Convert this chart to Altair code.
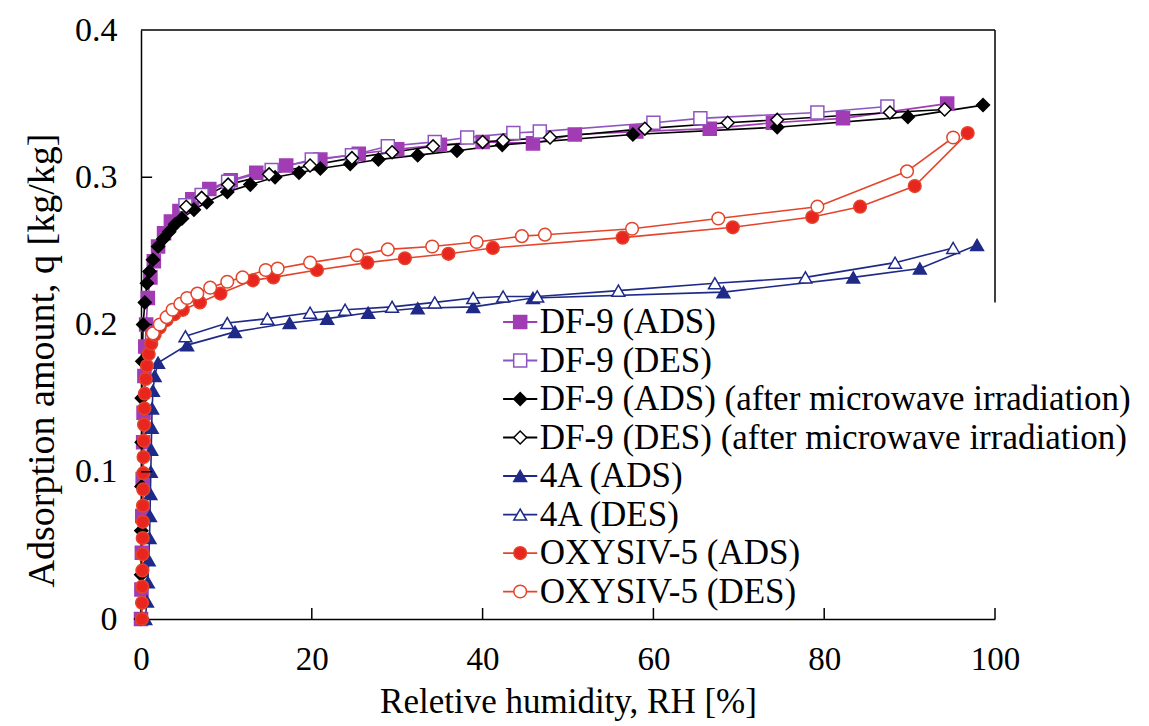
import altair as alt
import pandas as pd

FONT = "Liberation Serif"

# ---------------- data ----------------
series_names = [
    "DF-9 (ADS)",
    "DF-9 (DES)",
    "DF-9 (ADS) (after microwave irradiation)",
    "DF-9 (DES) (after microwave irradiation)",
    "4A (ADS)",
    "4A (DES)",
    "OXYSIV-5 (ADS)",
    "OXYSIV-5 (DES)",
]

df9_ads_rh = [0, 0.05, 0.1, 0.15, 0.2, 0.25, 0.3, 0.4, 0.5, 0.6, 0.8, 1.1, 1.5, 2.0, 2.7, 3.5, 4.5,
              6.0, 8.0, 10.5, 13.5, 17.0, 21.0, 25.5, 30.0, 35.0, 40.0, 45.9, 50.8, 58.0, 66.6,
              74.0, 82.2, 94.4]
df9_ads_q = [0, 0.02, 0.045, 0.07, 0.095, 0.12, 0.14, 0.165, 0.185, 0.2, 0.218, 0.232, 0.243,
             0.253, 0.262, 0.27, 0.277, 0.285, 0.292, 0.298, 0.303, 0.308, 0.312, 0.316, 0.319,
             0.322, 0.324, 0.323, 0.329, 0.331, 0.333, 0.337, 0.340, 0.350]

df9_des_rh = [5.2, 7.1, 10.2, 15.3, 20.0, 24.7, 28.9, 34.4, 38.2, 43.6, 46.7, 60.0, 65.5, 79.2, 87.4]
df9_des_q = [0.281, 0.288, 0.297, 0.305, 0.312, 0.315, 0.321, 0.324, 0.327, 0.330, 0.331, 0.337,
             0.340, 0.344, 0.348]

df9mw_ads_rh = [0, 0.02, 0.04, 0.06, 0.08, 0.1, 0.15, 0.25, 0.45, 0.7, 1.0, 1.4, 2.0, 2.6, 3.3,
                4.0, 4.8, 6.2, 7.7, 10.1, 12.8, 15.7, 18.5, 21.0, 24.5, 27.8, 32.4, 37.0, 42.3,
                57.6, 74.5, 89.8, 98.6]
df9mw_ads_q = [0, 0.03, 0.06, 0.09, 0.12, 0.15, 0.175, 0.2, 0.215, 0.228, 0.236, 0.244, 0.253,
               0.258, 0.263, 0.268, 0.272, 0.278, 0.283, 0.290, 0.295, 0.300, 0.303, 0.306, 0.309,
               0.312, 0.315, 0.318, 0.322, 0.329, 0.334, 0.341, 0.349]

df9mw_des_rh = [5.3, 7.1, 10.2, 15.0, 19.8, 24.7, 29.4, 34.2, 40.0, 42.4, 47.9, 59.0, 68.7, 74.5,
                87.7, 94.1]
df9mw_des_q = [0.280, 0.286, 0.295, 0.302, 0.308, 0.313, 0.317, 0.321, 0.324, 0.325, 0.327, 0.333,
               0.337, 0.339, 0.344, 0.346]

a4_ads_rh = [0.5, 0.7, 0.8, 0.9, 1.0, 1.05, 1.1, 1.15, 1.2, 1.25, 1.3, 1.4, 1.6, 2.0, 5.4, 11.0,
             17.4, 21.8, 26.6, 32.4, 38.9, 45.9, 68.2, 83.4, 91.2, 97.9]
a4_ads_q = [0, 0.012, 0.025, 0.04, 0.055, 0.07, 0.085, 0.1, 0.115, 0.13, 0.143, 0.155, 0.165,
            0.174, 0.186, 0.195, 0.201, 0.204, 0.208, 0.211, 0.212, 0.218, 0.222, 0.232, 0.238,
            0.254]

a4_des_rh = [5.2, 10.1, 14.8, 19.8, 23.9, 29.4, 34.4, 38.9, 42.4, 46.4, 55.9, 67.2, 77.8, 88.3, 95.1]
a4_des_q = [0.192, 0.201, 0.204, 0.208, 0.210, 0.212, 0.215, 0.218, 0.219, 0.219, 0.223, 0.228,
            0.232, 0.242, 0.252]

oxy_ads_rh = [0.1, 0.12, 0.14, 0.16, 0.18, 0.2, 0.22, 0.24, 0.26, 0.28, 0.3, 0.33, 0.36, 0.4, 0.45,
              0.55, 0.7, 0.9, 1.2, 1.6, 2.2, 3.0, 3.9, 4.9, 6.9, 9.3, 13.1, 15.5, 20.6, 26.5, 30.9,
              36.0, 41.2, 56.4, 69.3, 78.6, 84.2, 90.6, 96.8]
oxy_ads_q = [0, 0.011, 0.022, 0.033, 0.044, 0.055, 0.066, 0.077, 0.088, 0.099, 0.11, 0.121, 0.132,
             0.143, 0.153, 0.163, 0.172, 0.18, 0.187, 0.193, 0.198, 0.203, 0.207, 0.210, 0.215,
             0.221, 0.230, 0.232, 0.237, 0.242, 0.245, 0.248, 0.252, 0.259, 0.266, 0.273, 0.280,
             0.294, 0.330]

oxy_des_rh = [1.4, 2.2, 3.0, 3.7, 4.6, 5.4, 6.6, 8.1, 10.1, 11.9, 14.6, 16.0, 19.8, 25.3, 28.9,
              34.1, 39.3, 44.6, 47.3, 57.5, 67.6, 79.2, 89.7, 95.1]
oxy_des_q = [0.194, 0.200, 0.205, 0.210, 0.214, 0.218, 0.221, 0.225, 0.229, 0.232, 0.237, 0.238,
             0.242, 0.247, 0.251, 0.253, 0.256, 0.260, 0.261, 0.265, 0.272, 0.280, 0.304, 0.327]

x_ticks = [0, 20, 40, 60, 80, 100]
y_ticks = [0, 0.1, 0.2, 0.3, 0.4]

# ---------------- styles ----------------
marker_stroke = ["#A23CB4", "#8E55C0", "#000000", "#000000", "#1F2A88", "#1F2A88", "#E8251E", "#E2452E"]
marker_fill = ["#A23CB4", "#FFFFFF", "#000000", "#FFFFFF", "#1F2A88", "#FFFFFF", "#E8251E", "#FFFFFF"]
line_colors = ["#A23CB4", "#8E55C0", "#000000", "#000000", "#1F2A88", "#1F2A88", "#E3442B", "#E3442B"]
shapes = ["square", "square", "diamond", "diamond", "triangle-up", "triangle-up", "circle", "circle"]
sizes = [170, 160, 110, 150, 120, 140, 170, 170]

# legend layout (in data units of the chart)
leg_top = 0.2017
leg_step = 0.02615
leg_x0, leg_x1, leg_xm, leg_xt = 42.4, 46.4, 44.4, 46.7

# ---------------- tables ----------------
pairs = [(df9_ads_rh, df9_ads_q), (df9_des_rh, df9_des_q), (df9mw_ads_rh, df9mw_ads_q),
         (df9mw_des_rh, df9mw_des_q), (a4_ads_rh, a4_ads_q), (a4_des_rh, a4_des_q),
         (oxy_ads_rh, oxy_ads_q), (oxy_des_rh, oxy_des_q)]
rows = []
for name, (xs, ys) in zip(series_names, pairs):
    for i, (xv, yv) in enumerate(zip(xs, ys)):
        rows.append({"series": name, "rh": xv, "q": yv, "idx": i})
df = pd.DataFrame(rows)

leg = pd.DataFrame({
    "series": series_names,
    "q": [leg_top - i * leg_step for i in range(len(series_names))],
    "x0": leg_x0, "x1": leg_x1, "xm": leg_xm, "xt": leg_xt,
})

xs_scale = alt.Scale(domain=[0, 100], nice=False, zero=False)
ys_scale = alt.Scale(domain=[0, 0.4], nice=False, zero=False)
line_scale = alt.Scale(domain=series_names, range=line_colors)
stroke_scale = alt.Scale(domain=series_names, range=marker_stroke)
fill_scale = alt.Scale(domain=series_names, range=marker_fill)
shape_scale = alt.Scale(domain=series_names, range=shapes)
size_scale = alt.Scale(domain=series_names, range=sizes)

x_axis = alt.Axis(values=x_ticks, format="d", title="Reletive humidity, RH [%]", grid=False,
                  ticks=False, domainColor="black", domainWidth=1.5, labelFont=FONT,
                  labelFontSize=33, labelColor="black", labelPadding=24, labelFlush=False,
                  titleFont=FONT, titleFontSize=35, titleFontWeight="normal", titleColor="black",
                  titleY=93, titleBaseline="alphabetic")
y_axis = alt.Axis(values=y_ticks, title="Adsorption amount, q [kg/kg]", grid=False, ticks=False,
                  labelExpr="datum.value == 0 ? '0' : format(datum.value, '.1f')",
                  domainColor="black", domainWidth=1.5, labelFont=FONT, labelFontSize=34,
                  labelColor="black", labelPadding=24, labelFlush=False, titleFont=FONT,
                  titleFontSize=38, titleFontWeight="normal", titleColor="black", titleX=-99,
                  titleY=330, titleAlign="center", titleBaseline="middle", titleAngle=270)


def X(field):
    return alt.X(field, scale=xs_scale, axis=x_axis)


def Y(field):
    return alt.Y(field, scale=ys_scale, axis=y_axis)


lines = alt.Chart(df).mark_line(strokeWidth=1.6).encode(
    x=X("rh:Q"), y=Y("q:Q"),
    stroke=alt.Stroke("series:N", scale=line_scale, legend=None),
    order=alt.Order("idx:Q"),
)

points = alt.Chart(df).mark_point(opacity=1, strokeWidth=1.5).encode(
    x=X("rh:Q"), y=Y("q:Q"),
    stroke=alt.Stroke("series:N", scale=stroke_scale, legend=None),
    fill=alt.Fill("series:N", scale=fill_scale, legend=None),
    shape=alt.Shape("series:N", scale=shape_scale, legend=None),
    size=alt.Size("series:N", scale=size_scale, legend=None),
)

# inward tick marks and the frame
ytick_df = pd.DataFrame({"q": y_ticks[1:4], "x0": 0, "x1": 1.3})
xtick_df = pd.DataFrame({"rh": x_ticks[1:], "y0": 0, "y1": 0.0075})
yticks = alt.Chart(ytick_df).mark_rule(color="black", strokeWidth=1.5).encode(
    x=X("x0:Q"), x2="x1:Q", y=Y("q:Q"))
xticks = alt.Chart(xtick_df).mark_rule(color="black", strokeWidth=1.5).encode(
    x=X("rh:Q"), y=Y("y0:Q"), y2="y1:Q")
frame_df = pd.DataFrame({"xa": [0, 100], "xb": [100, 100], "ya": [0.4, 0.215], "yb": [0.4, 0.4]})
frame = alt.Chart(frame_df).mark_rule(color="black", strokeWidth=1.5).encode(
    x=X("xa:Q"), x2="xb:Q", y=Y("ya:Q"), y2="yb:Q")

# legend
leg_lines = alt.Chart(leg).mark_rule(strokeWidth=1.8).encode(
    x=X("x0:Q"), x2="x1:Q", y=Y("q:Q"),
    stroke=alt.Stroke("series:N", scale=line_scale, legend=None))
leg_points = alt.Chart(leg).mark_point(opacity=1, strokeWidth=1.5).encode(
    x=X("xm:Q"), y=Y("q:Q"),
    stroke=alt.Stroke("series:N", scale=stroke_scale, legend=None),
    fill=alt.Fill("series:N", scale=fill_scale, legend=None),
    shape=alt.Shape("series:N", scale=shape_scale, legend=None),
    size=alt.Size("series:N", scale=size_scale, legend=None))
leg_text = alt.Chart(leg).mark_text(align="left", baseline="middle", font=FONT, fontSize=35,
                                    color="black").encode(
    x=X("xt:Q"), y=Y("q:Q"), text="series:N")

chart = alt.layer(lines, points, yticks, xticks, frame, leg_lines, leg_points, leg_text).properties(
    width=854, height=589,
    padding={"left": 133, "top": 22, "right": 146, "bottom": 104},
    autosize=alt.AutoSizeParams(type="none"),
    background="white",
).configure_view(stroke="transparent")

chart.save("out.html", embed_options={"renderer": "svg", "actions": False})
